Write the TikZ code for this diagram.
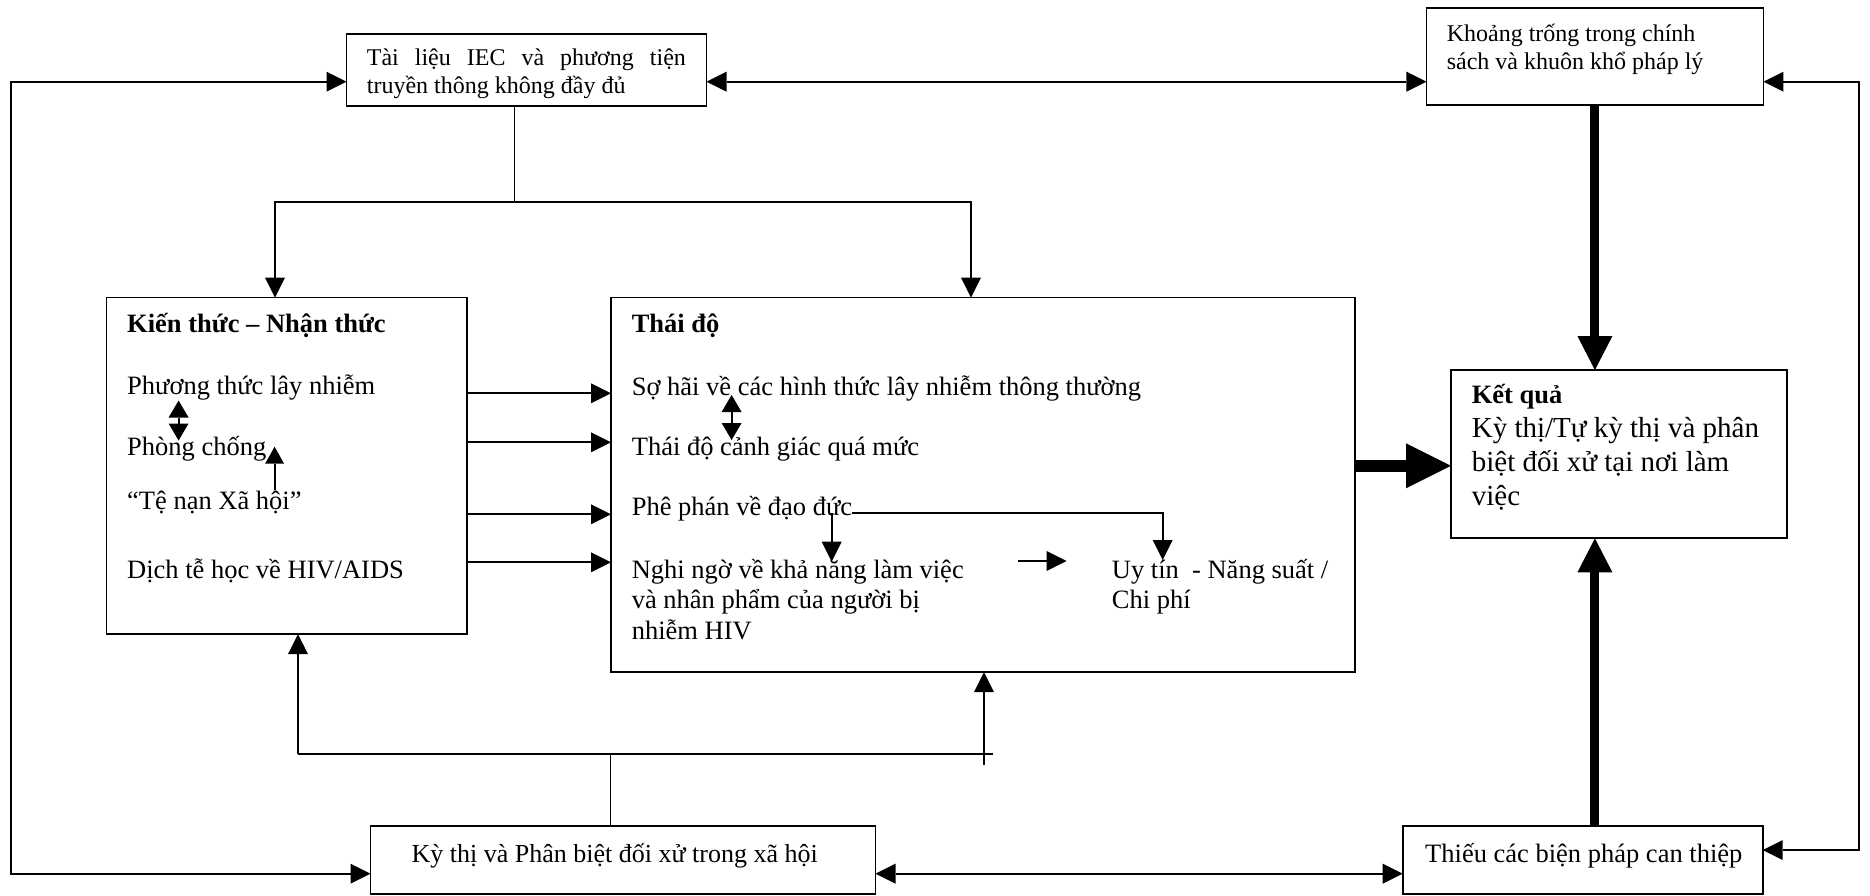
\documentclass[tikz,border=0pt]{standalone}
\usepackage{fontspec}
\setmainfont{Liberation Serif}
\usetikzlibrary{arrows.meta}
\begin{document}
\begin{tikzpicture}[x=1pt,y=-1pt,
  box/.style={draw,line width=1.8pt,inner sep=0pt,outer sep=0pt},
  txt/.style={inner sep=0pt,anchor=base west,font=\fontsize{26.5pt}{31pt}\selectfont},
  smalltxt/.style={txt,font=\fontsize{24pt}{27pt}\selectfont},
  bigtxt/.style={txt,font=\fontsize{29pt}{34pt}\selectfont},
  bottxt/.style={txt,font=\fontsize{26pt}{30pt}\selectfont},
  ln/.style={line width=1.8pt},
  arr/.style={line width=1.8pt,-{Triangle[length=20pt,width=20pt,line width=0pt]}},
  darr/.style={line width=1.8pt,{Triangle[length=20pt,width=20pt,line width=0pt]}-{Triangle[length=20pt,width=20pt,line width=0pt]}},
  sdarr/.style={line width=1.8pt,{Triangle[length=17pt,width=20pt,line width=0pt]}-{Triangle[length=17pt,width=20pt,line width=0pt]}},
  thk/.style={line width=9pt,-{Triangle[length=34pt,width=35pt,line width=0pt]}},
  thkb/.style={line width=12pt,-{Triangle[length=45pt,width=45pt,line width=0pt]}}
]
\useasboundingbox (0,0) rectangle (1870,895);

% boxes
\node[box,minimum width=360pt,minimum height=72.3pt] (iec) at (526.5,69.9) {};
\node[box,minimum width=337pt,minimum height=96.7pt] (ktr) at (1594.9,56.7) {};
\node[box,minimum width=360.5pt,minimum height=336.5pt] (kien) at (286.8,465.8) {};
\node[box,minimum width=744pt,minimum height=374.5pt] (thaido) at (983,484.8) {};
\node[box,minimum width=336pt,minimum height=168.3pt] (kq) at (1619,454.2) {};
\node[box,minimum width=505pt,minimum height=68pt] (kythi) at (623,860) {};
\node[box,minimum width=360pt,minimum height=68pt] (thieu) at (1582.7,860) {};

% texts
\node[smalltxt] (iec1) at (366.7,65.5) {\makebox[319pt][s]{Tài liệu IEC và phương tiện}};
\node[smalltxt] (iec2) at (366.7,93) {truyền thông không đầy đủ};
\node[smalltxt] (ktr1) at (1446.6,41.5) {Khoảng trống trong chính};
\node[smalltxt] (ktr2) at (1446.6,69.5) {sách và khuôn khổ pháp lý};

\node[txt] (kien0) at (127,332) {\textbf{Kiến thức – Nhận thức}};
\node[txt] (kien1) at (127,394.3) {Phương thức lây nhiễm};
\node[txt] (kien2) at (127,455.7) {Phòng chống};
\node[txt] (kien3) at (127,509) {“Tệ nạn Xã hội”};
\node[txt] (kien4) at (127,578.3) {Dịch tễ học về HIV/AIDS};

\node[txt] (td0) at (631.6,332) {\textbf{Thái độ}};
\node[txt] (td1) at (631.6,395) {Sợ hãi về các hình thức lây nhiễm thông thường};
\node[txt] (td2) at (631.6,455) {Thái độ cảnh giác quá mức};
\node[txt] (td3) at (631.6,515.5) {Phê phán về đạo đức};
\node[txt] (td4) at (631.6,578.5) {Nghi ngờ về khả năng làm việc};
\node[txt] (td5) at (631.6,608.5) {và nhân phẩm của người bị};
\node[txt] (td6) at (631.6,639) {nhiễm HIV};
\node[txt] (uy1) at (1111.7,578.5) {Uy tín\ \ - Năng suất /};
\node[txt] (uy2) at (1111.7,608.5) {Chi phí};

\node[txt] (kq0) at (1471.6,403.5) {\textbf{Kết quả}};
\node[bigtxt] (kq1) at (1471.6,437.7) {Kỳ thị/Tự kỳ thị và phân};
\node[bigtxt] (kq2) at (1471.6,471.7) {biệt đối xử tại nơi làm};
\node[bigtxt] (kq3) at (1471.6,505) {việc};

\node[bottxt] (kythitxt) at (411.4,862.7) {Kỳ thị và Phân biệt đối xử trong xã hội};
\node[txt] (thieutxt) at (1425,862.7) {Thiếu các biện pháp can thiệp};

% outer loops
\coordinate (L1) at (11,81.7);
\coordinate (L2) at (11,873.7);
\coordinate (R1) at (1859,81.7);
\coordinate (R2) at (1859,850);
\draw[darr] (iec.west |- L1) -- (L1) -- (L2) -- (kythi.west |- L2);
\draw[darr] (iec.east |- L1) -- (ktr.west |- L1);
\draw[darr] (ktr.east |- R1) -- (R1) -- (R2) -- (thieu.east |- R2);
\draw[darr] (kythi.east |- L2) -- (thieu.west |- L2);

% IEC down branches
\coordinate (J1) at (514.6,201.7);
\coordinate (Ja) at (275,201.7);
\coordinate (Jb) at (971,201.7);
\draw[line width=1.5pt] (iec.south -| J1) -- (J1);
\draw[arr] (J1) -- (Ja) -- (Ja |- kien.north);
\draw[arr] (J1) -- (Jb) -- (Jb |- thaido.north);

% kien -> thai do
\coordinate (k1) at (0,393.3);
\coordinate (k2) at (0,442.3);
\coordinate (k3) at (0,514.3);
\coordinate (k4) at (0,562.3);
\draw[arr] (kien.east |- k1) -- (thaido.west |- k1);
\draw[arr] (kien.east |- k2) -- (thaido.west |- k2);
\draw[arr] (kien.east |- k3) -- (thaido.west |- k3);
\draw[arr] (kien.east |- k4) -- (thaido.west |- k4);

% inner arrows
\coordinate (da1) at (178.6,400.5);
\coordinate (da2) at (178.6,440.5);
\draw[sdarr] (da1) -- (da2);
\coordinate (ua1) at (274.6,490);
\coordinate (ua2) at (274.6,446.7);
\draw[line width=1.8pt,-{Triangle[length=17pt,width=19pt,line width=0pt]}] (ua1) -- (ua2);
\coordinate (db1) at (731.6,395);
\coordinate (db2) at (731.6,440);
\draw[sdarr] (db1) -- (db2);

\coordinate (pa) at (831.7,513.3);
\coordinate (pa2) at (831.7,561.7);
\coordinate (pb) at (851.7,513.3);
\coordinate (pc) at (1162.7,513.3);
\coordinate (pc2) at (1162.7,560);
\draw[arr] (pa) -- (pa2);
\draw[arr] (pb) -- (pc) -- (pc2);
\coordinate (ra1) at (1018,561);
\coordinate (ra2) at (1066.7,561);
\draw[arr] (ra1) -- (ra2);

% bottom junction
\coordinate (B1) at (610.6,754);
\coordinate (Ba) at (298,754);
\coordinate (Bb) at (993.4,754);
\coordinate (Bc) at (984,765);
\draw[line width=1.3pt] (kythi.north -| B1) -- (B1);
\draw[ln] (Ba) -- (Bb);
\draw[arr] (Ba) -- (Ba |- kien.south);
\draw[arr] (Bc) -- (Bc |- thaido.south);

% thick arrows to result
\coordinate (T1) at (0,465.8);
\draw[thk] (ktr.south) -- (ktr.south |- kq.north);
\draw[thk] (ktr.south |- thieu.north) -- (ktr.south |- kq.south);
\draw[thkb] (thaido.east |- T1) -- (kq.west |- T1);
\end{tikzpicture}
\end{document}
